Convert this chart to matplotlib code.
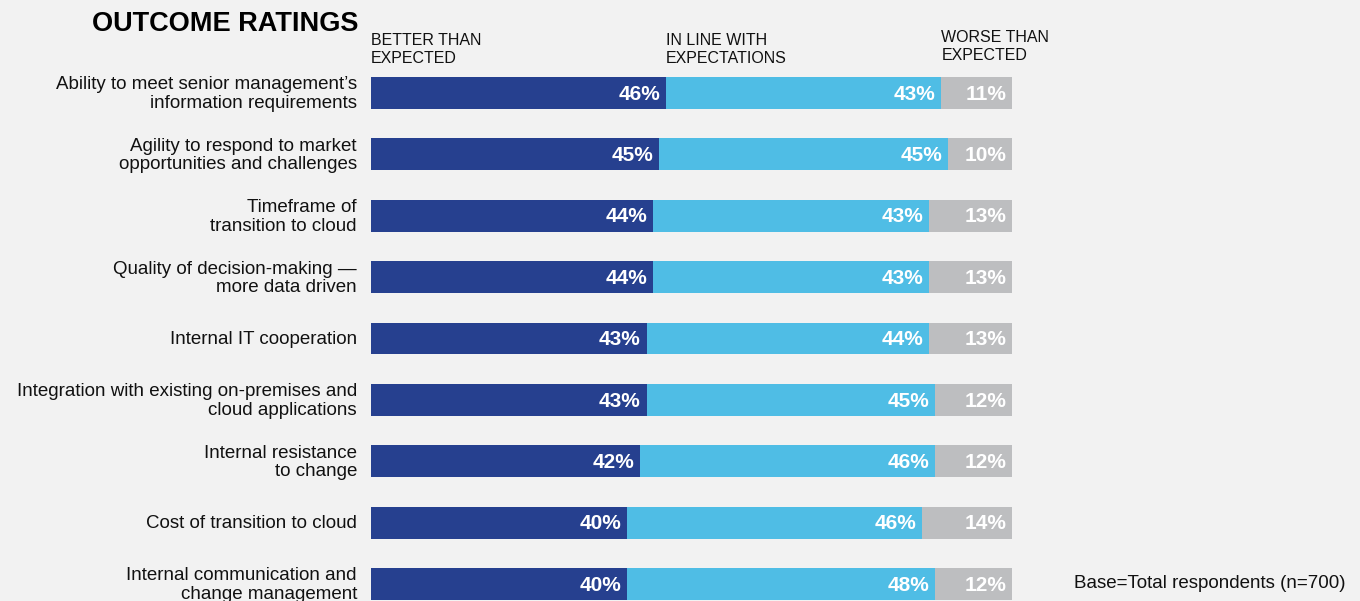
import numpy as np
import matplotlib.pyplot as plt

categories = [
    "Ability to meet senior management\u2019s\ninformation requirements",
    "Agility to respond to market\nopportunities and challenges",
    "Timeframe of\ntransition to cloud",
    "Quality of decision-making \u2014\nmore data driven",
    "Internal IT cooperation",
    "Integration with existing on-premises and\ncloud applications",
    "Internal resistance\nto change",
    "Cost of transition to cloud",
    "Internal communication and\nchange management",
]
better = [46, 45, 44, 44, 43, 43, 42, 40, 40]
in_line = [43, 45, 43, 43, 44, 45, 46, 46, 48]
worse = [11, 10, 13, 13, 13, 12, 12, 14, 12]
series_names = ["BETTER THAN\nEXPECTED", "IN LINE WITH\nEXPECTATIONS", "WORSE THAN\nEXPECTED"]

colors = ["#26408f", "#4fbde5", "#bdbec0"]
bg = "#f2f2f2"

plt.rcParams["font.family"] = ["Liberation Sans", "DejaVu Sans"]

fig = plt.figure(figsize=(13.6, 6.01), dpi=100, facecolor=bg)
# axes spans the bar area: x 0..100 -> px 371..1012, full figure height
ax = fig.add_axes([371 / 1360, 0, 641 / 1360, 1])
ax.set_facecolor(bg)

y = np.arange(len(categories))
left = np.zeros(len(categories))
for vals, col in zip([better, in_line, worse], colors):
    vals = np.array(vals)
    ax.barh(y, vals, left=left, height=0.52, color=col)
    for yi, l, v in zip(y, left, vals):
        ax.text(l + v - 0.9, yi + 0.02, f"{v}%", ha="right", va="center",
                color="white", fontsize=15, fontweight="bold")
    left = left + vals

ax.set_xlim(0, 100)
ax.set_ylim((601 - 93) / 61.375, -93 / 61.375)
ax.axis("off")

# category labels
for yi, cat in zip(y, categories):
    ax.text(-2.2, yi + 0.02, cat, ha="right", va="center", fontsize=13.5,
            linespacing=1.12, color="#111111")

# column headers at the segment starts of the first row
starts = [0, better[0], better[0] + in_line[0]]
header_y = [-0.71, -0.71, -0.76]
for s, name, hy in zip(starts, series_names, header_y):
    ax.text(s, hy, name, ha="left", va="center", fontsize=11.5,
            linespacing=1.3, color="#111111")

fig.text(358 / 1360, 1 - 24 / 601, "OUTCOME RATINGS", ha="right", va="center",
         fontsize=19.5, fontweight="bold", color="black")
fig.text(1345 / 1360, 1 - 583 / 601, "Base=Total respondents (n=700)",
         ha="right", va="center", fontsize=13.5, color="#111111")

plt.savefig("out.png", dpi=100, facecolor=bg)
